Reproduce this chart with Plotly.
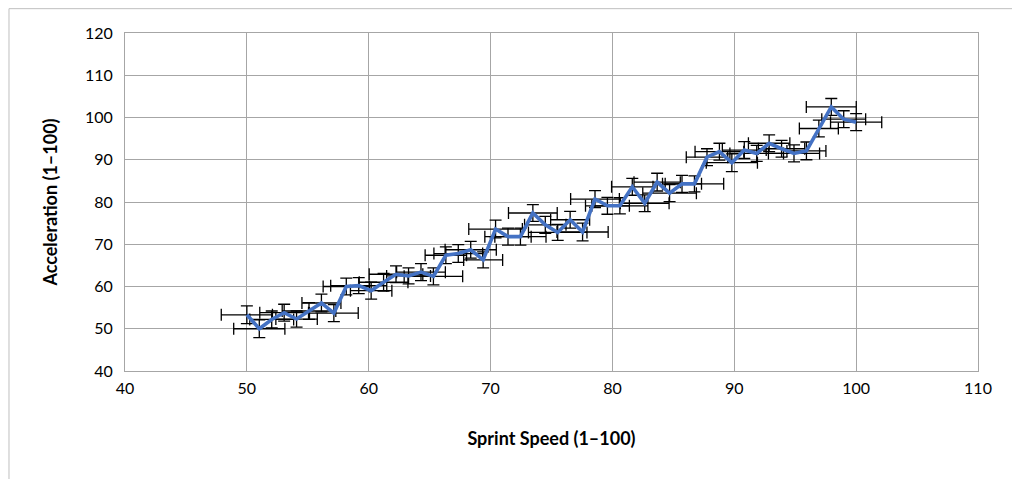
import plotly.graph_objects as go

# Data
sprint_speed = [50.00, 51.02, 52.04, 53.06, 54.08, 55.10, 56.12, 57.14, 58.16, 59.18,
                60.20, 61.22, 62.24, 63.27, 64.29, 65.31, 66.33, 67.35, 68.37, 69.39,
                70.41, 71.43, 72.45, 73.47, 74.49, 75.51, 76.53, 77.55, 78.57, 79.59,
                80.61, 81.63, 82.65, 83.67, 84.69, 85.71, 86.73, 87.76, 88.78, 89.80,
                90.82, 91.84, 92.86, 93.88, 94.90, 95.92, 96.94, 97.96, 98.98, 100.00]
acceleration = [53.3, 50.0, 52.2, 53.8, 52.3, 54.2, 56.1, 53.7, 60.0, 60.2,
                59.0, 61.0, 62.9, 62.5, 63.4, 62.4, 67.4, 67.8, 68.7, 66.3,
                73.6, 71.8, 71.8, 77.4, 74.6, 72.8, 75.8, 72.9, 80.7, 79.1,
                79.1, 83.6, 79.7, 84.7, 82.1, 84.3, 84.3, 90.6, 91.9, 89.3,
                92.3, 91.5, 93.9, 92.6, 91.5, 92.1, 97.4, 102.5, 99.6, 98.9]
speed_err = [2.1, 2.1, 1.8, 2.0, 1.7, 2.2, 1.6, 2.0, 1.9, 2.3,
             1.7, 2.0, 2.2, 1.8, 2.0, 2.4, 1.7, 2.0, 2.1, 1.6,
             2.2, 1.9, 2.1, 2.0, 1.7, 2.4, 1.6, 2.1, 2.0, 1.8,
             2.3, 1.7, 2.0, 1.9, 2.2, 1.6, 2.4, 1.7, 2.0, 2.1,
             1.8, 2.2, 1.7, 1.9, 2.1, 1.6, 1.6, 2.05, 1.8, 2.1]
accel_err = [2.1, 2.1, 2.0, 2.0, 1.9, 2.0, 2.1, 2.0, 2.0, 1.9,
             2.0, 2.1, 2.0, 1.9, 2.0, 2.0, 2.0, 2.1, 2.0, 1.9,
             2.1, 2.0, 2.0, 2.0, 2.0, 1.9, 2.0, 2.1, 2.0, 2.0,
             1.9, 2.0, 2.0, 2.1, 2.0, 2.0, 1.9, 2.0, 2.0, 2.1,
             2.0, 1.9, 2.0, 2.0, 2.0, 2.1, 2.0, 2.0, 2.0, 2.0]

x_ticks = [40, 50, 60, 70, 80, 90, 100, 110]
y_ticks = [40, 50, 60, 70, 80, 90, 100, 110, 120]

FONT = "Lato"

fig = go.Figure()
fig.add_trace(go.Scatter(
    x=sprint_speed, y=acceleration, mode="markers",
    marker=dict(size=1, opacity=0),
    error_x=dict(type="data", array=speed_err, color="black", thickness=1.3, width=6),
    error_y=dict(type="data", array=accel_err, color="black", thickness=1.3, width=6),
    showlegend=False, hoverinfo="skip",
))
fig.add_trace(go.Scatter(
    x=sprint_speed, y=acceleration, mode="lines",
    line=dict(color="#4472C4", width=3.6),
    showlegend=False,
))

fig.update_layout(
    width=1012, height=471,
    margin=dict(l=117, r=42, t=25, b=108),
    paper_bgcolor="white", plot_bgcolor="white",
    font=dict(family=FONT, size=16, color="black"),
    xaxis=dict(
        range=[40, 110], tickvals=x_ticks, ticktext=[str(v) for v in x_ticks],
        showgrid=True, gridcolor="#a6a6a6", gridwidth=1,
        showline=True, linecolor="#a6a6a6", mirror=True,
        zeroline=False, ticks="", ticklen=0, ticklabelstandoff=3,
        title=dict(text="<b>Sprint Speed (1–100)</b>", font=dict(family=FONT, size=18), standoff=36),
    ),
    yaxis=dict(
        range=[40, 120], tickvals=y_ticks, ticktext=[str(v) for v in y_ticks],
        showgrid=True, gridcolor="#a6a6a6", gridwidth=1,
        showline=True, linecolor="#a6a6a6", mirror=True,
        zeroline=False, ticks="", ticklen=0, ticklabelstandoff=8,
        title=dict(text="<b>Acceleration (1–100)</b>", font=dict(family=FONT, size=18), standoff=22),
    ),
    shapes=[dict(type="rect", xref="paper", yref="paper",
                 x0=-0.1360, x1=1.047, y0=-0.5, y1=1.0720,
                 line=dict(color="#bfbfbf", width=1), fillcolor="rgba(0,0,0,0)", layer="below")],
)

fig.write_html("out.html")
